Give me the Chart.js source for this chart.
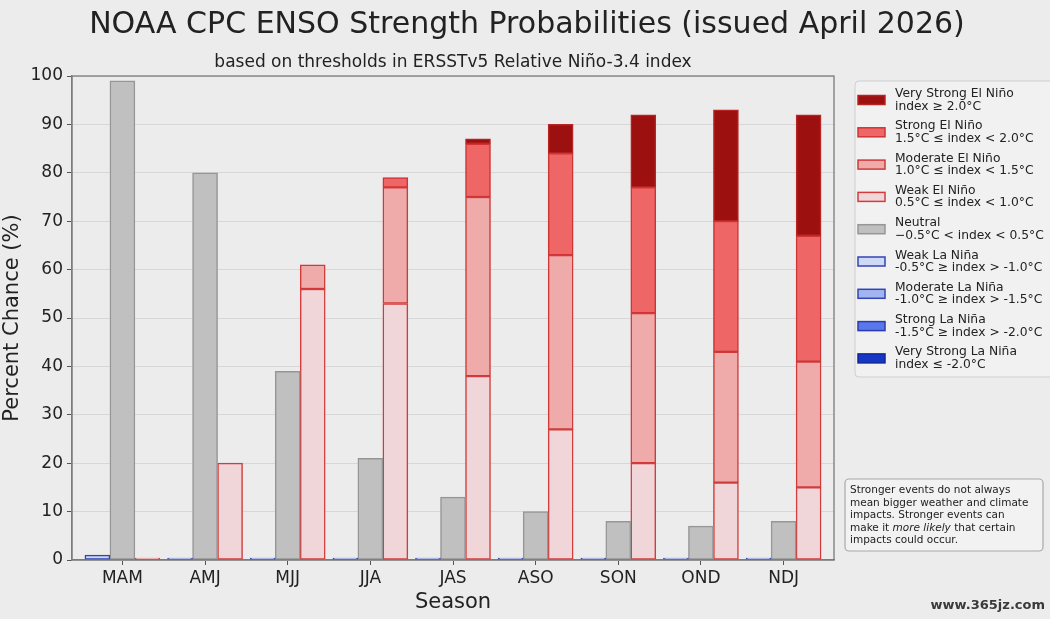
<!DOCTYPE html>
<html>
<head>
<meta charset="utf-8">
<title>NOAA CPC ENSO Strength Probabilities</title>
<script src="https://cdn.jsdelivr.net/npm/chart.js@4.4.1/dist/chart.umd.min.js"></script>
<style>
  html, body { margin: 0; padding: 0; background: #ececec; }
  canvas { display: block; }
</style>
</head>
<body>
<canvas id="ensoChart" width="1050" height="619"></canvas>
<script>
// Seasons (3-month periods)
const seasons = ['MAM', 'AMJ', 'MJJ', 'JJA', 'JAS', 'ASO', 'SON', 'OND', 'NDJ'];

// Percent chance per strength category
const weakLaNina = [1, 0, 0, 0, 0, 0, 0, 0, 0];
const moderateLaNina = [0, 0, 0, 0, 0, 0, 0, 0, 0];
const strongLaNina = [0, 0, 0, 0, 0, 0, 0, 0, 0];
const veryStrongLaNina = [0, 0, 0, 0, 0, 0, 0, 0, 0];
const neutral = [99, 80, 39, 21, 13, 10, 8, 7, 8];
const weakElNino = [0, 20, 56, 53, 38, 27, 20, 16, 15];
const moderateElNino = [0, 0, 5, 24, 37, 36, 31, 27, 26];
const strongElNino = [0, 0, 0, 2, 11, 21, 26, 27, 26];
const veryStrongElNino = [0, 0, 0, 0, 1, 6, 15, 23, 25];

const yTicks = [0, 10, 20, 30, 40, 50, 60, 70, 80, 90, 100];

const FONT = "'DejaVu Sans', sans-serif";
const TEXT = '#222';

// bottom segment of a stack keeps a thin outline even at 0 %
function series(label, range, values, stack, fill, edge, bottom) {
    return {
        label: label,
        range: range,
        data: values.map((v, i) => ({ x: i, y: v })),
        stack: stack,
        backgroundColor: fill,
        borderColor: edge,
        borderWidth: 1.5,
        borderSkipped: false,
        barThickness: 25,
        minBarLength: bottom ? 2 : 0
    };
}

const datasets = [
    series('Weak La Niña', '-0.5°C ≥ index > -1.0°C', weakLaNina, 'nina', '#cfd8f5', '#3344b4', true),
    series('Moderate La Niña', '-1.0°C ≥ index > -1.5°C', moderateLaNina, 'nina', '#a2b5f0', '#3344b4'),
    series('Strong La Niña', '-1.5°C ≥ index > -2.0°C', strongLaNina, 'nina', '#5a78ec', '#2a3cb0'),
    series('Very Strong La Niña', 'index ≤ -2.0°C', veryStrongLaNina, 'nina', '#1636c6', '#10289a'),
    series('Neutral', '−0.5°C < index < 0.5°C', neutral, 'neutral', '#c0c0c0', '#969696', true),
    series('Weak El Niño', '0.5°C ≤ index < 1.0°C', weakElNino, 'nino', '#f0d6d8', '#d33c3c', true),
    series('Moderate El Niño', '1.0°C ≤ index < 1.5°C', moderateElNino, 'nino', '#efaaaa', '#d03a3a'),
    series('Strong El Niño', '1.5°C ≤ index < 2.0°C', strongElNino, 'nino', '#ee6666', '#cf3434'),
    series('Very Strong El Niño', 'index ≥ 2.0°C', veryStrongElNino, 'nino', '#9c1010', '#b82424')
];

// legend order, top to bottom
const legendOrder = [8, 7, 6, 5, 4, 0, 1, 2, 3];

const noteLines = [
    [['Stronger events do not always', false]],
    [['mean bigger weather and climate', false]],
    [['impacts. Stronger events can', false]],
    [['make it ', false], ['more likely', true], [' that certain', false]],
    [['impacts could occur.', false]]
];

function roundRect(ctx, x, y, w, h, r) {
    ctx.beginPath();
    ctx.moveTo(x + r, y);
    ctx.arcTo(x + w, y, x + w, y + h, r);
    ctx.arcTo(x + w, y + h, x, y + h, r);
    ctx.arcTo(x, y + h, x, y, r);
    ctx.arcTo(x, y, x + w, y, r);
    ctx.closePath();
}

const decor = {
    id: 'decor',
    beforeDraw(chart) {
        const ctx = chart.ctx;
        ctx.save();
        ctx.fillStyle = '#ececec';
        ctx.fillRect(0, 0, chart.width, chart.height);
        ctx.restore();
    },
    afterDatasetsDraw(chart) {
        const ctx = chart.ctx;
        const a = chart.chartArea;
        ctx.save();
        ctx.strokeStyle = '#7c7c7c';
        ctx.lineWidth = 1.3;
        ctx.strokeRect(a.left, a.top, a.right - a.left, a.bottom - a.top);
        ctx.restore();
    },
    afterDraw(chart) {
        const ctx = chart.ctx;
        const a = chart.chartArea;
        ctx.save();
        ctx.fillStyle = TEXT;
        ctx.textBaseline = 'alphabetic';

        // titles
        ctx.textAlign = 'center';
        ctx.font = '30px ' + FONT;
        ctx.fillText('NOAA CPC ENSO Strength Probabilities (issued April 2026)', 527, 33);
        ctx.font = '17px ' + FONT;
        ctx.fillText('based on thresholds in ERSSTv5 Relative Niño-3.4 index', (a.left + a.right) / 2, 67);

        // legend box
        roundRect(ctx, 855, 81, 205, 296, 4);
        ctx.fillStyle = '#f1f1f1';
        ctx.fill();
        ctx.strokeStyle = '#cfcfcf';
        ctx.lineWidth = 1;
        ctx.stroke();

        ctx.textAlign = 'left';
        ctx.font = '12.3px ' + FONT;
        legendOrder.forEach((idx, k) => {
            const ds = chart.data.datasets[idx];
            const cy = 100 + k * 32.3;
            ctx.fillStyle = ds.backgroundColor;
            ctx.fillRect(858, cy - 4.5, 27, 9);
            ctx.strokeStyle = ds.borderColor;
            ctx.lineWidth = 1.5;
            ctx.strokeRect(858, cy - 4.5, 27, 9);
            ctx.fillStyle = TEXT;
            ctx.fillText(ds.label, 895, cy - 3);
            ctx.fillText(ds.range, 895, cy + 9.5);
        });

        // note box
        roundRect(ctx, 845, 479, 198, 72, 4);
        ctx.fillStyle = '#f2f2f2';
        ctx.fill();
        ctx.strokeStyle = '#a8a8a8';
        ctx.lineWidth = 1.2;
        ctx.stroke();
        ctx.fillStyle = TEXT;
        noteLines.forEach((parts, i) => {
            let x = 850;
            const y = 493 + i * 12.6;
            parts.forEach(([txt, italic]) => {
                ctx.font = (italic ? 'italic ' : '') + '10.5px ' + FONT;
                ctx.fillText(txt, x, y);
                x += ctx.measureText(txt).width;
            });
        });

        // watermark
        ctx.font = 'bold 13px ' + FONT;
        ctx.textAlign = 'right';
        ctx.fillStyle = '#3a3a3a';
        ctx.fillText('www.365jz.com', 1045, 609);
        ctx.restore();
    }
};

Chart.defaults.font.family = FONT;
Chart.defaults.color = TEXT;

new Chart(document.getElementById('ensoChart'), {
    type: 'bar',
    data: { datasets: datasets },
    options: {
        responsive: false,
        animation: false,
        layout: { padding: { top: 76, right: 216, left: 0, bottom: 0 } },
        plugins: {
            legend: { display: false },
            tooltip: { enabled: false }
        },
        scales: {
            x: {
                type: 'linear',
                min: -0.61,
                max: 8.61,
                offset: false,
                afterBuildTicks: axis => { axis.ticks = seasons.map((s, i) => ({ value: i })); },
                afterFit: axis => { axis.height = 59; },
                ticks: {
                    callback: value => seasons[value],
                    font: { size: 17 },
                    color: TEXT,
                    padding: 3,
                    maxRotation: 0,
                    autoSkip: false
                },
                grid: { drawOnChartArea: false, offset: false, tickLength: 5, tickColor: '#555' },
                border: { display: true, color: '#7c7c7c', width: 1.3 },
                title: {
                    display: true,
                    text: 'Season',
                    font: { size: 21 },
                    color: TEXT,
                    padding: { top: 0, bottom: 4 }
                }
            },
            y: {
                stacked: true,
                min: 0,
                max: 100,
                afterBuildTicks: axis => { axis.ticks = yTicks.map(v => ({ value: v })); },
                afterFit: axis => { axis.width = 72; },
                ticks: {
                    font: { size: 17 },
                    color: TEXT,
                    padding: 4
                },
                grid: { color: '#d7d7d7', lineWidth: 1, tickLength: 5, tickColor: '#555' },
                border: { display: true, color: '#7c7c7c', width: 1.3 },
                title: {
                    display: true,
                    text: 'Percent Chance (%)',
                    font: { size: 21 },
                    color: TEXT,
                    padding: { top: 0, bottom: 0 }
                }
            }
        }
    },
    plugins: [decor]
});
</script>
</body>
</html>
